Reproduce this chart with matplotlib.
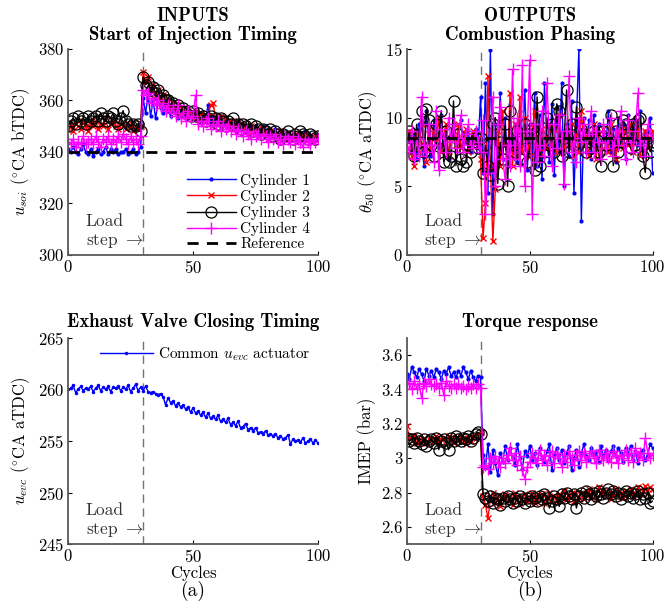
import numpy as np
import matplotlib
matplotlib.use("Agg")
import matplotlib.pyplot as plt

# ============================================================
# DATA
# ============================================================

cycles = np.arange(0, 101)
load_step = 30

# --- start of injection timing u_soi (deg CA bTDC)
soi_cyl1 = [341, 340, 342, 340, 339, 341, 343, 340, 339, 341,
            338.5, 340, 341, 339, 340, 342, 339, 341, 340, 341,
            339, 340, 340, 341, 339, 340, 341, 339, 340, 342,
            361, 355, 362, 354, 360, 353, 359, 357, 355, 358,
            356, 354, 357, 355, 353, 356, 354, 355, 353, 355,
            354, 353, 355, 352, 354, 353, 358, 352, 353, 351,
            352, 354, 351, 352, 350, 352, 351, 350, 352, 349,
            351, 350, 349, 350, 348, 350, 349, 348, 350, 347,
            349, 348, 347, 349, 346, 348, 347, 346, 347, 345,
            347, 346, 345, 347, 346, 348, 345, 346, 347, 345,
            346]
soi_cyl2 = [349, 350, 348, 351, 350, 349, 352, 350, 348, 351,
            350, 352, 349, 351, 350, 353, 349, 351, 352, 350,
            349, 351, 350, 349, 351, 350, 348, 350, 349, 350,
            371, 367, 369, 364, 366, 362, 364, 360, 362, 358,
            361, 357, 359, 356, 358, 355, 357, 354, 356, 355,
            353, 356, 354, 355, 353, 352, 354, 358, 359, 353,
            352, 354, 351, 353, 350, 352, 351, 350, 352, 349,
            351, 350, 348, 350, 349, 348, 349, 347, 349, 348,
            347, 348, 346, 347, 346, 348, 346, 345, 347, 346,
            345, 347, 346, 345, 346, 347, 345, 346, 344, 346,
            345]
soi_cyl3 = [350, 352, 353, 351, 354, 352, 353, 351, 354, 352,
            353, 354, 352, 355, 353, 352, 354, 353, 355, 352,
            351, 353, 356, 352, 351, 350, 351, 350, 351, 348,
            369, 366, 367, 364, 365, 363, 364, 361, 362, 360,
            360, 358, 359, 357, 358, 356, 357, 355, 356, 354,
            356, 354, 355, 353, 354, 352, 353, 354, 352, 353,
            351, 353, 352, 350, 352, 351, 353, 350, 351, 349,
            351, 350, 349, 351, 348, 350, 349, 347, 349, 348,
            347, 349, 346, 348, 347, 345, 347, 346, 348, 346,
            345, 347, 346, 348, 347, 346, 345, 347, 346, 345,
            346]
soi_cyl4 = [344, 343, 345, 342, 344, 343, 346, 343, 344, 345,
            343, 346, 344, 342, 345, 344, 346, 343, 345, 344,
            346, 344, 347, 345, 343, 346, 344, 345, 343, 346,
            364, 362, 363, 359, 361, 358, 360, 357, 359, 356,
            358, 355, 357, 354, 358, 353, 355, 352, 356, 353,
            354, 362, 351, 352, 350, 352, 353, 349, 351, 350,
            352, 348, 351, 349, 350, 348, 350, 347, 349, 348,
            346, 348, 347, 345, 348, 346, 347, 345, 347, 346,
            344, 346, 345, 347, 344, 345, 343, 346, 345, 344,
            346, 343, 345, 344, 342, 345, 344, 343, 345, 344,
            345]
soi_ref = 340

# --- combustion phasing theta_50 (deg CA aTDC)
ca50_cyl1 = [8.5, 9.0, 7.5, 8.8, 7.0, 9.5, 8.0, 6.5, 10.5, 8.2,
             7.2, 9.8, 8.5, 7.8, 10.2, 8.0, 9.2, 7.0, 8.8, 9.5,
             7.5, 8.5, 9.8, 7.8, 8.2, 9.0, 7.5, 8.6, 9.2, 7.8,
             11.5, 6.0, 12.5, 4.5, 14.9, 3.0, 9.5, 6.5, 11.8, 7.0,
             10.0, 6.5, 11.0, 7.5, 9.5, 6.8, 10.5, 8.0, 12.0, 6.2,
             9.5, 7.0, 11.8, 6.5, 10.2, 5.5, 12.5, 8.0, 6.8, 11.0,
             5.8, 10.8, 7.5, 12.5, 5.0, 9.5, 7.2, 11.2, 4.5, 9.8,
             15.0, 2.5, 10.0, 7.5, 9.8, 7.0, 10.2, 8.0, 9.5, 7.2,
             9.0, 8.0, 10.5, 7.5, 9.2, 6.8, 10.0, 8.2, 9.5, 7.0,
             10.2, 8.5, 7.5, 9.8, 8.0, 10.5, 7.2, 9.0, 8.5, 10.0,
             6.0]
ca50_cyl2 = [8.5, 9.0, 7.2, 6.5, 8.8, 7.5, 9.5, 8.0, 6.8, 9.2,
             7.8, 9.0, 8.2, 10.0, 7.5, 8.8, 9.5, 7.2, 8.5, 9.0,
             8.0, 9.5, 7.8, 8.5, 9.2, 7.5, 8.0, 9.0, 8.2, 8.5,
             7.0, 1.2, 3.8, 13.0, 6.5, 1.0, 4.8, 9.0, 6.5, 10.5,
             8.0, 7.0, 11.8, 6.5, 9.5, 7.2, 11.5, 7.5, 10.0, 8.5,
             7.2, 9.0, 10.5, 8.0, 7.5, 9.2, 8.5, 7.8, 9.5, 8.0,
             9.2, 7.5, 10.2, 8.5, 7.8, 9.0, 8.0, 9.5, 7.2, 8.8,
             7.5, 10.5, 8.0, 9.0, 7.2, 8.5, 9.5, 7.0, 8.8, 7.5,
             9.2, 8.0, 7.5, 9.5, 8.2, 7.0, 9.0, 8.5, 7.8, 9.2,
             8.0, 9.5, 7.5, 8.8, 9.8, 7.2, 8.5, 9.0, 7.8, 8.5,
             9.0]
ca50_cyl3 = [7.8, 9.0, 8.0, 7.2, 9.5, 8.2, 10.5, 7.5, 10.6, 9.8,
             8.0, 7.2, 9.5, 8.5, 10.5, 6.8, 9.0, 6.8, 7.2, 11.2,
             6.5, 8.8, 7.0, 6.5, 6.8, 8.0, 7.5, 8.2, 8.5, 7.8,
             8.5, 6.0, 8.0, 6.5, 5.8, 9.5, 10.0, 5.2, 8.2, 7.0,
             9.5, 5.0, 10.5, 8.0, 7.5, 9.0, 7.0, 8.5, 9.5, 6.8,
             7.8, 9.2, 6.2, 11.5, 6.5, 8.5, 7.5, 10.0, 8.0, 9.5,
             7.5, 11.0, 10.5, 7.2, 8.5, 12.0, 7.5, 9.5, 8.0, 10.8,
             8.2, 9.2, 8.8, 7.5, 8.5, 7.8, 9.0, 8.2, 7.5, 6.5,
             9.0, 8.0, 8.5, 10.2, 6.5, 9.0, 7.5, 8.2, 9.8, 9.5,
             8.5, 7.8, 9.5, 8.0, 9.8, 10.0, 7.2, 6.0, 8.5, 7.5,
             8.0]
ca50_cyl4 = [8.2, 7.5, 9.0, 7.0, 8.5, 7.2, 11.5, 8.0, 7.5, 9.5,
             8.0, 6.8, 10.5, 6.2, 9.2, 8.5, 7.5, 10.0, 8.2, 9.5,
             7.8, 8.5, 10.2, 7.5, 8.8, 9.5, 8.0, 7.8, 9.0, 8.2,
             7.5, 9.8, 3.0, 6.0, 8.5, 11.5, 5.0, 9.5, 10.8, 7.0,
             5.5, 8.0, 6.5, 13.5, 7.0, 10.0, 6.5, 13.8, 5.0, 9.0,
             14.2, 3.0, 9.5, 6.8, 8.0, 10.5, 7.2, 12.5, 8.5, 6.5,
             9.5, 7.8, 10.2, 8.5, 5.2, 9.0, 13.0, 7.5, 8.5, 6.8,
             10.0, 8.2, 9.5, 7.5, 8.8, 10.5, 7.5, 9.0, 8.2, 7.0,
             9.5, 7.8, 8.5, 10.0, 7.2, 9.0, 8.0, 10.5, 8.5, 7.0,
             9.8, 8.2, 7.5, 9.0, 11.8, 8.0, 8.5, 7.2, 9.5, 8.8,
             8.5]
ca50_ref = 8.5

# --- exhaust valve closing timing u_evc (deg CA aTDC)
evc_common = [260.0, 260.1, 260.4, 259.7, 260.0, 260.3, 259.9, 260.1, 260.0, 260.3,
              259.8, 260.1, 260.4, 259.9, 260.2, 260.0, 260.3, 259.8, 260.2, 260.1,
              260.3, 259.9, 260.2, 260.0, 260.4, 259.8, 260.1, 260.5, 259.9, 260.2,
              259.9, 260.3, 259.8, 259.7, 259.8, 259.6, 259.5, 259.6, 259.3, 258.5,
              259.2, 258.7, 258.9, 258.4, 258.7, 258.3, 258.5, 258.1, 258.3, 257.8,
              258.2, 257.7, 257.9, 257.5, 257.8, 257.3, 257.7, 257.2, 257.4, 257.1,
              257.5, 256.9, 257.1, 256.8, 257.2, 256.6, 256.8, 256.5, 256.9, 256.3,
              256.4, 256.7, 256.1, 256.3, 256.0, 256.3, 255.8, 255.9, 255.7, 256.0,
              255.6, 255.7, 255.5, 255.7, 255.3, 255.5, 255.2, 255.3, 255.6, 254.7,
              255.2, 255.0, 255.1, 254.9, 255.3, 254.8, 255.0, 255.2, 254.8, 255.1,
              254.8]

# --- torque response IMEP (bar)
imep_cyl1 = [3.49, 3.46, 3.53, 3.50, 3.47, 3.52, 3.49, 3.45, 3.52, 3.48,
             3.51, 3.47, 3.52, 3.50, 3.46, 3.51, 3.49, 3.53, 3.48, 3.50,
             3.47, 3.51, 3.48, 3.53, 3.50, 3.46, 3.51, 3.47, 3.45, 3.48,
             3.47, 3.02, 2.95, 3.08, 2.92, 3.05, 2.97, 2.90, 3.03, 2.98,
             3.07, 2.99, 3.06, 3.00, 2.96, 3.08, 3.00, 2.94, 3.04, 3.01,
             3.07, 2.99, 3.03, 2.96, 3.06, 3.00, 2.98, 3.04, 3.08, 2.93,
             3.02, 3.06, 2.99, 3.05, 2.97, 3.03, 3.07, 2.93, 3.00, 3.05,
             2.95, 3.03, 3.08, 3.01, 2.99, 3.06, 3.02, 3.04, 2.98, 3.07,
             3.01, 3.05, 2.99, 3.04, 3.07, 3.01, 3.06, 3.03, 2.98, 3.06,
             3.02, 3.07, 2.99, 3.04, 2.97, 3.03, 3.05, 2.99, 3.02, 3.08,
             3.06]
imep_cyl2 = [3.19, 3.12, 3.10, 3.13, 3.09, 3.11, 3.10, 3.12, 3.09, 3.11,
             3.12, 3.10, 3.13, 3.09, 3.11, 3.12, 3.10, 3.13, 3.11, 3.09,
             3.12, 3.10, 3.13, 3.11, 3.08, 3.12, 3.10, 3.13, 3.12, 3.14,
             3.15, 2.78, 2.73, 2.65, 2.76, 2.80, 2.74, 2.78, 2.72, 2.77,
             2.79, 2.75, 2.78, 2.73, 2.80, 2.76, 2.74, 2.78, 2.79, 2.75,
             2.77, 2.80, 2.74, 2.78, 2.76, 2.79, 2.74, 2.77, 2.80, 2.76,
             2.78, 2.75, 2.79, 2.77, 2.81, 2.76, 2.78, 2.80, 2.75, 2.79,
             2.77, 2.80, 2.76, 2.79, 2.82, 2.78, 2.80, 2.76, 2.83, 2.79,
             2.81, 2.78, 2.80, 2.76, 2.79, 2.82, 2.78, 2.80, 2.77, 2.81,
             2.79, 2.82, 2.78, 2.80, 2.83, 2.79, 2.81, 2.84, 2.80, 2.83,
             2.82]
imep_cyl3 = [3.12, 3.10, 3.11, 3.09, 3.12, 3.10, 3.08, 3.11, 3.07, 3.10,
             3.11, 3.09, 3.12, 3.05, 3.10, 3.11, 3.09, 3.05, 3.12, 3.10,
             3.13, 3.11, 3.10, 3.12, 3.11, 3.13, 3.10, 3.12, 3.14, 3.15,
             3.14, 2.79, 2.77, 2.75, 2.78, 2.74, 2.77, 2.76, 2.73, 2.77,
             2.75, 2.78, 2.76, 2.74, 2.77, 2.75, 2.78, 2.76, 2.74, 2.77,
             2.75, 2.78, 2.77, 2.75, 2.78, 2.76, 2.79, 2.77, 2.71, 2.75,
             2.78, 2.76, 2.72, 2.79, 2.77, 2.80, 2.78, 2.76, 2.79, 2.71,
             2.78, 2.80, 2.77, 2.81, 2.79, 2.76, 2.80, 2.78, 2.81, 2.79,
             2.77, 2.80, 2.82, 2.79, 2.81, 2.78, 2.80, 2.76, 2.79, 2.81,
             2.78, 2.80, 2.77, 2.79, 2.81, 2.76, 2.79, 2.77, 2.80, 2.74,
             2.75]
imep_cyl4 = [3.43, 3.44, 3.40, 3.45, 3.41, 3.43, 3.35, 3.44, 3.42, 3.46,
             3.43, 3.42, 3.43, 3.41, 3.44, 3.37, 3.45, 3.42, 3.41, 3.43,
             3.41, 3.43, 3.41, 3.42, 3.40, 3.42, 3.41, 3.43, 3.41, 3.43,
             3.41, 2.95, 2.96, 2.94, 3.00, 2.97, 3.01, 2.98, 2.95, 3.00,
             2.97, 3.02, 3.06, 2.99, 3.03, 2.96, 3.01, 2.93, 2.88, 2.95,
             2.98, 3.03, 3.00, 2.97, 3.05, 2.99, 3.02, 2.96, 3.01, 3.04,
             2.97, 3.03, 3.00, 2.95, 3.02, 2.98, 3.04, 3.00, 2.96, 3.02,
             3.04, 2.99, 3.03, 2.98, 3.01, 3.04, 3.00, 2.97, 3.05, 3.01,
             2.99, 3.03, 3.00, 2.98, 3.04, 3.01, 2.97, 3.02, 3.00, 3.05,
             2.99, 3.03, 2.98, 3.06, 3.01, 3.03, 2.99, 3.12, 3.03, 3.00,
             3.02]

cyl_labels = ["Cylinder 1", "Cylinder 2", "Cylinder 3", "Cylinder 4"]

# ============================================================
# STYLE
# ============================================================

plt.rcParams["font.family"] = ["cmr10", "DejaVu Serif"]
plt.rcParams["mathtext.fontset"] = "cm"
plt.rcParams["axes.formatter.use_mathtext"] = True
plt.rcParams["font.size"] = 12

styles = [
    dict(color="blue", marker=".", ms=4, lw=1.0),
    dict(color="red", marker="x", ms=5, lw=1.0, mew=1.0),
    dict(color="black", marker="o", ms=8, lw=1.0, mfc="none", mew=0.9),
    dict(color="magenta", marker="+", ms=9, lw=1.0, mew=1.0),
]

bold = dict(family="cmb10", fontsize=13.5)


def style_axes(ax, ylim, yticks):
    ax.set_xlim(0, 100)
    ax.set_ylim(*ylim)
    ax.set_xticks([0, 50, 100])
    ax.set_yticks(yticks)
    for s in ["top", "right"]:
        ax.spines[s].set_visible(False)
    for s in ["left", "bottom"]:
        ax.spines[s].set_color("0.35")
        ax.spines[s].set_linewidth(1.3)
    ax.tick_params(direction="in", length=3, width=0.8, labelsize=12, pad=3)
    ax.axvline(load_step, color="0.45", ls=(0, (6, 4)), lw=1.0, zorder=0)


def load_text(ax):
    ax.text(0.07, 0.025, "Load\n" + r"step $\rightarrow$", transform=ax.transAxes,
            fontsize=12.5, color="0.2", va="bottom", linespacing=1.25)


fig = plt.figure(figsize=(6.68, 6.10), dpi=100)

w, h = 0.374, 0.338
ax1 = fig.add_axes([0.102, 0.582, w, h])
ax2 = fig.add_axes([0.609, 0.582, 0.368, h])
ax3 = fig.add_axes([0.102, 0.108, w, h])
ax4 = fig.add_axes([0.609, 0.108, 0.368, h])

# --- top left: SOI
for y, st, lab in zip([soi_cyl1, soi_cyl2, soi_cyl3, soi_cyl4], styles, cyl_labels):
    ax1.plot(cycles, y, label=lab, **st)
ax1.axhline(soi_ref, color="black", ls=(0, (4, 3)), lw=2.0, label="Reference")
style_axes(ax1, (300, 380), [300, 320, 340, 360, 380])
ax1.set_ylabel(r"$u_{soi}$ ($^{\circ}$CA bTDC)")
ax1.set_title("INPUTS\nStart of Injection Timing", linespacing=1.1, pad=6, **bold)
load_text(ax1)
ax1.legend(loc="lower right", frameon=False, fontsize=11, handlelength=3.2,
           handletextpad=0.3, labelspacing=0.12, borderaxespad=0.1,
           bbox_to_anchor=(1.0, -0.02))

# --- top right: CA50
for y, st, lab in zip([ca50_cyl1, ca50_cyl2, ca50_cyl3, ca50_cyl4], styles, cyl_labels):
    ax2.plot(cycles, y, label=lab, **st)
ax2.axhline(ca50_ref, color="black", ls=(0, (4, 3)), lw=2.0, zorder=5)
style_axes(ax2, (0, 15), [0, 5, 10, 15])
ax2.set_ylabel(r"$\theta_{50}$ ($^{\circ}$CA aTDC)")
ax2.set_title("OUTPUTS\nCombustion Phasing", linespacing=1.1, pad=6, **bold)
load_text(ax2)

# --- bottom left: EVC
ax3.plot(cycles, evc_common, color="blue", marker=".", ms=3, lw=1.0,
         label=r"Common $u_{evc}$ actuator")
style_axes(ax3, (245, 265), [245, 250, 255, 260, 265])
ax3.set_ylabel(r"$u_{evc}$ ($^{\circ}$CA aTDC)")
ax3.set_xlabel("Cycles", labelpad=0)
ax3.set_title("Exhaust Valve Closing Timing", pad=8, **bold)
load_text(ax3)
ax3.legend(loc="upper right", frameon=False, fontsize=11, handlelength=3.5,
           handletextpad=0.3, borderaxespad=0.1)
ax3.text(0.5, -0.225, "(a)", transform=ax3.transAxes, ha="center", va="center", fontsize=14)

# --- bottom right: IMEP
for y, st, lab in zip([imep_cyl1, imep_cyl2, imep_cyl3, imep_cyl4], styles, cyl_labels):
    ax4.plot(cycles, y, label=lab, **st)
style_axes(ax4, (2.5, 3.7), [2.6, 2.8, 3.0, 3.2, 3.4, 3.6])
ax4.set_yticklabels(["2.6", "2.8", "3", "3.2", "3.4", "3.6"])
ax4.set_ylabel("IMEP (bar)")
ax4.set_xlabel("Cycles", labelpad=0)
ax4.set_title("Torque response", pad=8, **bold)
load_text(ax4)
ax4.text(0.5, -0.225, "(b)", transform=ax4.transAxes, ha="center", va="center", fontsize=14)

fig.savefig("out.png", dpi=100)
